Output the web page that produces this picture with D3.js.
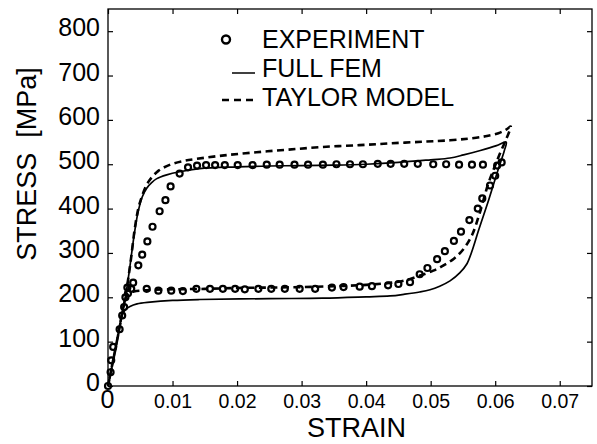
<!DOCTYPE html>
<html>
<head>
<meta charset="utf-8">
<title>Stress - strain</title>
<style>
  body { margin: 0; background: #fff; }
  svg { display: block; }
  text { font-family: 'Liberation Sans', Arial, sans-serif; fill: #000; }
  .axis .domain { display: none; }
  .axis .tick line { stroke: #000; stroke-width: 1.2; }
  .ytick text { font-size: 25px; }
  .xtick text { font-size: 19.5px; }
  .legend text { font-size: 25px; }
  .label { font-size: 27px; }
</style>
</head>
<body>
<svg width="597" height="444"></svg>

<script src="https://cdn.jsdelivr.net/npm/d3@7"></script>
<script>
// [strain, stress MPa]
const experiment = [
  [0, 0], [0.0004, 31], [0.0005, 58], [0.0008, 88], [0.0018, 128], [0.0022, 159],
  [0.0025, 178], [0.0031, 209], [0.0039, 233], [0.0047, 272], [0.0053, 296],
  [0.0061, 326], [0.0069, 359], [0.0080, 394], [0.0089, 419], [0.0097, 450],
  [0.0111, 479], [0.0124, 493], [0.0138, 497], [0.0152, 498], [0.0166, 498],
  [0.0181, 498], [0.0201, 498], [0.0224, 498], [0.0246, 499], [0.0266, 499],
  [0.0289, 499], [0.0310, 499], [0.0333, 499], [0.0354, 500], [0.0375, 500],
  [0.0395, 500], [0.0418, 501], [0.0438, 501], [0.0459, 501], [0.0480, 501],
  [0.0504, 500], [0.0524, 500], [0.0544, 499], [0.0564, 499], [0.0581, 499],
  [0.0603, 497], [0.0610, 504],
  [0.0600, 474], [0.0592, 452], [0.0580, 423], [0.0573, 400], [0.0560, 374],
  [0.0547, 348], [0.0536, 327], [0.0522, 304], [0.0510, 286], [0.0495, 266],
  [0.0483, 252], [0.0468, 234], [0.0450, 230], [0.0434, 227], [0.0409, 225],
  [0.0390, 224], [0.0365, 223], [0.0347, 222], [0.0321, 219], [0.0297, 219],
  [0.0274, 219], [0.0253, 219], [0.0233, 219], [0.0212, 218], [0.0197, 219],
  [0.0178, 219], [0.0158, 219], [0.0137, 219], [0.0116, 214], [0.0098, 215],
  [0.0078, 215], [0.0060, 219], [0.0036, 219], [0.0030, 222], [0.0027, 200]
];

const fullFem = [
  [0, 0], [0.0010, 72], [0.0020, 148], [0.0028, 210], [0.0034, 270], [0.0040, 335],
  [0.0046, 388], [0.0053, 426], [0.0060, 446], [0.0068, 459], [0.0075, 467],
  [0.0091, 476], [0.0111, 483], [0.0142, 490], [0.0200, 494], [0.0250, 496],
  [0.0300, 497], [0.0350, 498], [0.0400, 500], [0.0450, 504], [0.0500, 510],
  [0.0530, 514], [0.0551, 521], [0.0577, 531], [0.0602, 542], [0.0617, 550],
  [0.0614, 530], [0.0605, 490], [0.0590, 420], [0.0574, 350], [0.0566, 313],
  [0.0556, 275], [0.0545, 255], [0.0530, 237], [0.0514, 225], [0.0499, 217],
  [0.0483, 212], [0.0460, 207], [0.0437, 203], [0.0400, 201], [0.0333, 198],
  [0.0250, 197], [0.0142, 195], [0.0100, 193], [0.0065, 189], [0.0045, 185],
  [0.0034, 179], [0.0027, 172], [0.0022, 160], [0.0012, 85], [0, 0]
];

const taylor = [
  [0, 0], [0.0010, 72], [0.0020, 148], [0.0028, 210], [0.0035, 280], [0.0042, 360],
  [0.0047, 400], [0.0052, 425], [0.0062, 459], [0.0078, 485], [0.0098, 500],
  [0.0119, 508], [0.0137, 512], [0.0180, 520], [0.0230, 527], [0.0280, 533],
  [0.0333, 539], [0.0390, 543], [0.0437, 547], [0.0490, 551], [0.0530, 554],
  [0.0560, 558], [0.0585, 563], [0.0605, 570], [0.0617, 578], [0.0624, 585],
  [0.0618, 560], [0.0607, 523], [0.0598, 490], [0.0589, 455], [0.0576, 390],
  [0.0564, 340], [0.0551, 309], [0.0536, 287], [0.0520, 272], [0.0504, 260],
  [0.0480, 247], [0.0460, 238], [0.0440, 233], [0.0400, 228], [0.0350, 225],
  [0.0300, 223], [0.0250, 222], [0.0200, 221], [0.0150, 219], [0.0100, 218],
  [0.0060, 216], [0.0040, 213], [0.0031, 208], [0.0025, 185], [0.0015, 110], [0, 0]
];

const xTicks = [0, 0.01, 0.02, 0.03, 0.04, 0.05, 0.06, 0.07];
const yTicks = [0, 100, 200, 300, 400, 500, 600, 700, 800];
const legendLabels = ["EXPERIMENT", "FULL FEM", "TAYLOR MODEL"];

let margin = { top: 9, right: 5, bottom: 58, left: 108 };
let width = 597 - margin.left - margin.right;
let height = 444 - margin.top - margin.bottom;

let svg = d3.select("svg");
let g = svg.append("g").attr("transform", `translate(${margin.left},${margin.top})`);

let x = d3.scaleLinear().domain([0, 0.075]).range([0, width]);
let y = d3.scaleLinear().domain([0, 850]).range([height, 0]);

// frame
g.append("rect")
  .attr("width", width).attr("height", height)
  .attr("fill", "none").attr("stroke", "#000").attr("stroke-width", 1.3);

// axes, ticks pointing inward
let xAxis = g.append("g")
  .attr("class", "axis xtick")
  .attr("transform", `translate(0,${height})`)
  .call(d3.axisBottom(x).tickValues(xTicks).tickSizeInner(-5).tickSizeOuter(0)
    .tickFormat(d => d === 0 ? "0" : d3.format(".2f")(d)));
xAxis.selectAll("text").attr("y", 22).attr("dy", 0);
xAxis.selectAll(".tick").filter(d => d === 0).select("text")
  .style("font-size", "25px").attr("x", -1);

let yAxis = g.append("g")
  .attr("class", "axis ytick")
  .call(d3.axisLeft(y).tickValues(yTicks).tickSizeInner(-5).tickSizeOuter(0).tickPadding(8));
yAxis.selectAll("text").attr("dy", 4.5);

g.append("g").attr("class", "axis")
  .call(d3.axisTop(x).tickValues(xTicks).tickSizeInner(-5).tickSizeOuter(0).tickFormat(""));
g.append("g").attr("class", "axis")
  .attr("transform", `translate(${width},0)`)
  .call(d3.axisRight(y).tickValues(yTicks).tickSizeInner(-5).tickSizeOuter(0).tickFormat(""));

// curves
let line = d3.line()
  .x(d => x(d[0]))
  .y(d => y(d[1]))
  .curve(d3.curveCatmullRom.alpha(0.5));

g.append("path")
  .datum(fullFem)
  .attr("d", line)
  .attr("fill", "none")
  .attr("stroke", "#000")
  .attr("stroke-width", 1.7);

g.append("path")
  .datum(taylor)
  .attr("d", line)
  .attr("fill", "none")
  .attr("stroke", "#000")
  .attr("stroke-width", 2.6)
  .attr("stroke-dasharray", "7,4.5");

g.selectAll(".exp")
  .data(experiment)
  .join("circle")
    .attr("class", "exp")
    .attr("cx", d => x(d[0]))
    .attr("cy", d => y(d[1]))
    .attr("r", 3)
    .attr("fill", "none")
    .attr("stroke", "#000")
    .attr("stroke-width", 2.2);

// legend
let legend = svg.append("g").attr("class", "legend");
let legendY = [48, 77, 106];
legend.selectAll("text")
  .data(legendLabels)
  .join("text")
    .attr("x", 262)
    .attr("y", (d, i) => legendY[i])
    .text(d => d);

legend.append("circle")
  .attr("cx", 226).attr("cy", 39.5).attr("r", 4)
  .attr("fill", "none").attr("stroke", "#000").attr("stroke-width", 2.4);
legend.append("line")
  .attr("x1", 232).attr("x2", 255).attr("y1", 73).attr("y2", 73)
  .attr("stroke", "#000").attr("stroke-width", 1.5);
legend.append("line")
  .attr("x1", 222).attr("x2", 255).attr("y1", 100).attr("y2", 100)
  .attr("stroke", "#000").attr("stroke-width", 2.6).attr("stroke-dasharray", "7,5");

// axis titles
svg.append("text")
  .attr("class", "label")
  .attr("x", margin.left + x(0.0385))
  .attr("y", 437)
  .attr("text-anchor", "middle")
  .text("STRAIN");

svg.append("text")
  .attr("class", "label")
  .attr("transform", "translate(36,164) rotate(-90)")
  .attr("text-anchor", "middle")
  .attr("xml:space", "preserve")
  .text("STRESS  [MPa]");
</script>
</body>
</html>
